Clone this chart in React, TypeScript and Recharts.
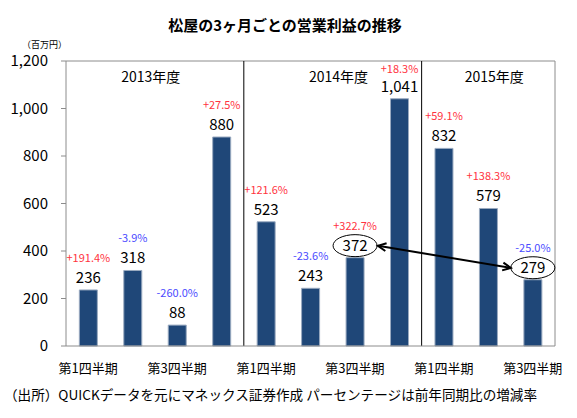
import React from 'react';
import { BarChart, Bar, XAxis, YAxis, ReferenceLine, ReferenceDot, LabelList } from 'recharts';

// Quarterly operating profit of Matsuya (million yen)
const QUARTERS = [
  '第1四半期', '第2四半期', '第3四半期', '第4四半期',
  '第1四半期', '第2四半期', '第3四半期', '第4四半期',
  '第1四半期', '第2四半期', '第3四半期',
];
const PROFIT = [236, 318, 88, 880, 523, 243, 372, 1041, 832, 579, 279];
const YOY = [
  '+191.4%', '-3.9%', '-260.0%', '+27.5%',
  '+121.6%', '-23.6%', '+322.7%', '+18.3%',
  '+59.1%', '+138.3%', '-25.0%',
];
const Y_TICKS = [0, 200, 400, 600, 800, 1000, 1200];
const FISCAL_YEARS = ['2013年度', '2014年度', '2015年度'];
const YEAR_ANCHOR = [1, 5, 9]; // quarter the fiscal-year label sits near
const YEAR_SHIFT = [18, 28, 6]; // px nudge from that quarter's centre
const YEAR_STARTS = [4, 8];
const CIRCLED = [6, 10];

const BAR = '#1F4778';
const RED = '#FF3340';
const BLUE = '#4B4BFF';
const FRAME = '#8C8C8C';
const FONT = "'Noto Sans CJK JP', 'Liberation Sans', sans-serif";

const data = QUARTERS.map((q, i) => ({ id: i, q, value: PROFIT[i], yoy: YOY[i] }));

const fmt = (v: number) => v.toLocaleString('en-US');

function BarLabel(props: any) {
  const vb = props.viewBox || props;
  const x = vb.x ?? props.x;
  const y = vb.y ?? props.y;
  const w = vb.width ?? props.width;
  const idx = props.index ?? PROFIT.indexOf(Number(props.value));
  const cx = x + w / 2;
  const pct = YOY[idx];
  const up = pct.startsWith('+');
  // the tallest bar's percentage is squeezed under the frame top
  const pctY = y < 110 ? y - 26 : y - 28;
  return (
    <g>
      {CIRCLED.includes(idx) && (
        <ellipse cx={cx} cy={y - 12} rx={22} ry={11} fill="none" stroke="#000" strokeWidth={1} />
      )}
      <text x={cx} y={y - 7} textAnchor="middle" fontSize={15} fill="#000" fontFamily={FONT}>
        {fmt(Number(props.value))}
      </text>
      <text x={cx} y={pctY} textAnchor="middle" fontSize={11} fill={up ? RED : BLUE} fontFamily={FONT}>
        {pct}
      </text>
    </g>
  );
}

// arrow joins the two circled labels; ends stop at the ellipse edge
function DoubleArrow(props: any) {
  const { x1: ax, y1: ay, x2: bx, y2: by } = props;
  const x1 = ax + 23;
  const x2 = bx - 22;
  const y1 = ay;
  const y2 = by;
  const a = Math.atan2(y2 - y1, x2 - x1);
  const L = 9;
  const s = 0.45;
  const head = (px: number, py: number, dir: number) =>
    `${px + L * Math.cos(dir + s)},${py + L * Math.sin(dir + s)} ${px},${py} ${px + L * Math.cos(dir - s)},${py + L * Math.sin(dir - s)}`;
  return (
    <g stroke="#000" strokeWidth={2} fill="none">
      <line x1={x1} y1={y1} x2={x2} y2={y2} />
      <polyline points={head(x1, y1, a)} />
      <polyline points={head(x2, y2, a + Math.PI)} />
    </g>
  );
}

export default function App() {
  return (
    <div style={{ position: 'absolute', left: 0, top: 0, width: 577, height: 418, background: '#fff', fontFamily: FONT }}>
      <div style={{ position: 'absolute', left: 0, width: 570, top: 14, textAlign: 'center', fontSize: 15, fontWeight: 'bold', lineHeight: '22px', color: '#000' }}>
        松屋の3ヶ月ごとの営業利益の推移
      </div>
      <div style={{ position: 'absolute', left: 22, top: 39, fontSize: 9, lineHeight: '12px', color: '#000' }}>
        （百万円）
      </div>
      <BarChart
        width={577}
        height={418}
        data={data}
        margin={{ top: 61, right: 22, bottom: 42, left: 0 }}
        barCategoryGap="30%"
      >
        <XAxis
          dataKey="id"
          height={30}
          interval={1}
          tickFormatter={(i: number) => QUARTERS[i]}
          tickLine={false}
          axisLine={{ stroke: FRAME }}
          tick={{ fontSize: 13, fill: '#000', fontFamily: FONT }}
          tickMargin={12}
        />
        <YAxis
          width={66}
          domain={[0, 1200]}
          ticks={Y_TICKS}
          tickFormatter={fmt}
          tickSize={5}
          tickLine={{ stroke: FRAME }}
          axisLine={{ stroke: FRAME }}
          tick={{ fontSize: 15, fill: '#000', fontFamily: FONT }}
          tickMargin={13}
        />
        <ReferenceLine y={1200} stroke={FRAME} />
        <ReferenceLine x={QUARTERS.length - 1} position="end" stroke={FRAME} />
        {YEAR_STARTS.map((b) => (
          <ReferenceLine key={b} x={b} position="start" stroke="#000" />
        ))}
        {FISCAL_YEARS.map((name, i) => (
          <ReferenceDot
            key={name}
            x={YEAR_ANCHOR[i]}
            y={1133}
            r={0}
            shape={(p: any) => (
              <text x={p.cx + YEAR_SHIFT[i]} y={p.cy + 5} textAnchor="middle" fontSize={14} fill="#000" fontFamily={FONT}>
                {name}
              </text>
            )}
          />
        ))}
        <Bar dataKey="value" fill={BAR} stroke="#9AAAC0" strokeWidth={1} isAnimationActive={false}>
          <LabelList dataKey="value" content={BarLabel} />
        </Bar>
        <ReferenceLine
          segment={[
            { x: CIRCLED[0], y: PROFIT[CIRCLED[0]] + 50 },
            { x: CIRCLED[1], y: PROFIT[CIRCLED[1]] + 50 },
          ]}
          shape={DoubleArrow}
        />
      </BarChart>
      <div style={{ position: 'absolute', left: 4, top: 384, fontSize: 13.6, lineHeight: '20px', color: '#000', whiteSpace: 'nowrap' }}>
        （出所）QUICKデータを元にマネックス証券作成 パーセンテージは前年同期比の増減率
      </div>
    </div>
  );
}
